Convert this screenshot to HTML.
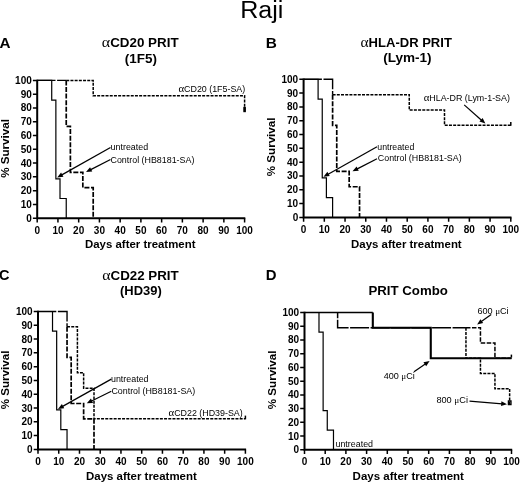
<!DOCTYPE html>
<html><head><meta charset="utf-8"><style>
html,body{margin:0;padding:0;background:#fff;}
svg{display:block;filter:blur(0.3px);}

text{font-family:"Liberation Sans",sans-serif;fill:#000;}
.tk{font-size:10px;font-weight:bold;}
.al{font-size:10.6px;font-weight:bold;}
.an{font-size:8.9px;}
.pl{font-size:14.5px;font-weight:bold;}
.tt{font-size:12.6px;font-weight:bold;}
.ti{font-size:23.3px;}
.ga{font-family:"Liberation Serif",serif;font-weight:normal;font-size:15px;}
.gb{font-family:"Liberation Serif",serif;font-weight:normal;font-size:10.8px;}
.mu{font-family:"Liberation Serif",serif;}

.ax{fill:none;stroke:#000;stroke-width:2;}
.tkl{fill:none;stroke:#000;stroke-width:1.5;}
.arl{fill:none;stroke:#000;}
.cm{fill:none;stroke:#000;stroke-width:2.6;}
.cm2{fill:none;stroke:#000;stroke-width:1.5;}
.unt{fill:none;stroke:#000;stroke-width:1.2;}
.top{fill:none;stroke:#000;stroke-width:1.4;}
.ctl{fill:none;stroke:#000;stroke-width:1.7;stroke-dasharray:5 1.6;}
.d3{fill:none;stroke:#000;stroke-width:1.5;stroke-dasharray:3 1.2;}
.d6{fill:none;stroke:#000;stroke-width:1.5;stroke-dasharray:4.5 1.5;}
.d68{fill:none;stroke:#000;stroke-width:1.5;stroke-dasharray:19 1.5;stroke-dashoffset:13.3;}
.s4{fill:none;stroke:#000;stroke-width:2.1;}
</style></head><body>
<svg width="520" height="483" viewBox="0 0 520 483">
<path d="M37.2 79.7V219.2M36.2 218.2H245.3" class="ax"/>
<path d="M32.9 218.2H37.2M37.2 218.2V222.5M32.9 204.42H37.2M57.94 218.2V222.5M32.9 190.64H37.2M78.68 218.2V222.5M32.9 176.86H37.2M99.42 218.2V222.5M32.9 163.08H37.2M120.16 218.2V222.5M32.9 149.3H37.2M140.9 218.2V222.5M32.9 135.52H37.2M161.64 218.2V222.5M32.9 121.74H37.2M182.38 218.2V222.5M32.9 107.96H37.2M203.12 218.2V222.5M32.9 94.18H37.2M223.86 218.2V222.5M32.9 80.4H37.2M244.6 218.2V222.5" class="tkl"/>
<text x="31.8" y="221.7" class="tk" text-anchor="end">0</text>
<text x="37.2" y="233.5" class="tk" text-anchor="middle">0</text>
<text x="31.8" y="207.92" class="tk" text-anchor="end">10</text>
<text x="57.94" y="233.5" class="tk" text-anchor="middle">10</text>
<text x="31.8" y="194.14" class="tk" text-anchor="end">20</text>
<text x="78.68" y="233.5" class="tk" text-anchor="middle">20</text>
<text x="31.8" y="180.36" class="tk" text-anchor="end">30</text>
<text x="99.42" y="233.5" class="tk" text-anchor="middle">30</text>
<text x="31.8" y="166.58" class="tk" text-anchor="end">40</text>
<text x="120.16" y="233.5" class="tk" text-anchor="middle">40</text>
<text x="31.8" y="152.8" class="tk" text-anchor="end">50</text>
<text x="140.9" y="233.5" class="tk" text-anchor="middle">50</text>
<text x="31.8" y="139.02" class="tk" text-anchor="end">60</text>
<text x="161.64" y="233.5" class="tk" text-anchor="middle">60</text>
<text x="31.8" y="125.24" class="tk" text-anchor="end">70</text>
<text x="182.38" y="233.5" class="tk" text-anchor="middle">70</text>
<text x="31.8" y="111.46" class="tk" text-anchor="end">80</text>
<text x="203.12" y="233.5" class="tk" text-anchor="middle">80</text>
<text x="31.8" y="97.68" class="tk" text-anchor="end">90</text>
<text x="223.86" y="233.5" class="tk" text-anchor="middle">90</text>
<text x="31.8" y="83.9" class="tk" text-anchor="end">100</text>
<text x="244.6" y="233.5" class="tk" text-anchor="middle">100</text>
<path d="M37.2 80.4H51.72V100.11H55.87V178.79H60.01V198.49H66.24V218.2" class="unt"/>
<path d="M37.2 80.4H55.5M57.1 80.4H66.24" class="top"/>
<path d="M66.24 80.4H66.24V126.29H70.38V172.31H82.83V187.61H93.2V218.2" class="ctl"/>
<path d="M66.24 80.4H93.2V95.7H244.6V110.99" class="d3"/>
<path d="M244.6 106.86V112.19" class="cm"/>
<path d="M110.5 147.5L61.38 175.15" class="arl" style="stroke-width:1.25"/>
<path d="M57.2 177.5L61.08 172.56L63.43 176.75Z"/>
<path d="M110.5 159.5L90.28 169.82" class="arl" style="stroke-width:1.25"/>
<path d="M86 172L90.08 167.23L92.26 171.5Z"/>
<path d="M303.6 78.6V218.4M302.6 217.4H511.5" class="ax"/>
<path d="M299.3 217.4H303.6M303.6 217.4V221.7M299.3 203.59H303.6M324.32 217.4V221.7M299.3 189.78H303.6M345.04 217.4V221.7M299.3 175.97H303.6M365.76 217.4V221.7M299.3 162.16H303.6M386.48 217.4V221.7M299.3 148.35H303.6M407.2 217.4V221.7M299.3 134.54H303.6M427.92 217.4V221.7M299.3 120.73H303.6M448.64 217.4V221.7M299.3 106.92H303.6M469.36 217.4V221.7M299.3 93.11H303.6M490.08 217.4V221.7M299.3 79.3H303.6M510.8 217.4V221.7" class="tkl"/>
<text x="298.2" y="220.9" class="tk" text-anchor="end">0</text>
<text x="303.6" y="232.7" class="tk" text-anchor="middle">0</text>
<text x="298.2" y="207.09" class="tk" text-anchor="end">10</text>
<text x="324.32" y="232.7" class="tk" text-anchor="middle">10</text>
<text x="298.2" y="193.28" class="tk" text-anchor="end">20</text>
<text x="345.04" y="232.7" class="tk" text-anchor="middle">20</text>
<text x="298.2" y="179.47" class="tk" text-anchor="end">30</text>
<text x="365.76" y="232.7" class="tk" text-anchor="middle">30</text>
<text x="298.2" y="165.66" class="tk" text-anchor="end">40</text>
<text x="386.48" y="232.7" class="tk" text-anchor="middle">40</text>
<text x="298.2" y="151.85" class="tk" text-anchor="end">50</text>
<text x="407.2" y="232.7" class="tk" text-anchor="middle">50</text>
<text x="298.2" y="138.04" class="tk" text-anchor="end">60</text>
<text x="427.92" y="232.7" class="tk" text-anchor="middle">60</text>
<text x="298.2" y="124.23" class="tk" text-anchor="end">70</text>
<text x="448.64" y="232.7" class="tk" text-anchor="middle">70</text>
<text x="298.2" y="110.42" class="tk" text-anchor="end">80</text>
<text x="469.36" y="232.7" class="tk" text-anchor="middle">80</text>
<text x="298.2" y="96.61" class="tk" text-anchor="end">90</text>
<text x="490.08" y="232.7" class="tk" text-anchor="middle">90</text>
<text x="298.2" y="82.8" class="tk" text-anchor="end">100</text>
<text x="510.8" y="232.7" class="tk" text-anchor="middle">100</text>
<path d="M303.6 79.3H318.1V99.05H322.25V177.9H326.39V197.65H332.61V217.4" class="unt"/>
<path d="M303.6 79.3H321.9M323.5 79.3H332.61V89.3M332.61 91.1V94.63" class="top"/>
<path d="M332.61 94.63H332.61V125.29H336.75V171.41H349.18V186.74H359.54V217.4" class="ctl"/>
<path d="M332.61 94.63H409.27V109.96H444.5V125.29H510.8V125.29" class="d3"/>
<path d="M510.8 125.79V122.11" class="cm2"/>
<path d="M377 146.8L327.69 174.45" class="arl" style="stroke-width:1.25"/>
<path d="M323.5 176.8L327.39 171.87L329.73 176.06Z"/>
<path d="M377 158.8L356.78 169.12" class="arl" style="stroke-width:1.25"/>
<path d="M352.5 171.3L356.58 166.53L358.76 170.8Z"/>
<path d="M464.2 104.9L481.8 120.42" class="arl" style="stroke-width:1.25"/>
<path d="M485.4 123.6L479.46 121.56L482.64 117.96Z"/>
<path d="M38 310.8V450.4M37 449.4H246.1" class="ax"/>
<path d="M33.7 449.4H38M38 449.4V453.7M33.7 435.61H38M58.74 449.4V453.7M33.7 421.82H38M79.48 449.4V453.7M33.7 408.03H38M100.22 449.4V453.7M33.7 394.24H38M120.96 449.4V453.7M33.7 380.45H38M141.7 449.4V453.7M33.7 366.66H38M162.44 449.4V453.7M33.7 352.87H38M183.18 449.4V453.7M33.7 339.08H38M203.92 449.4V453.7M33.7 325.29H38M224.66 449.4V453.7M33.7 311.5H38M245.4 449.4V453.7" class="tkl"/>
<text x="32.6" y="452.9" class="tk" text-anchor="end">0</text>
<text x="38" y="464.7" class="tk" text-anchor="middle">0</text>
<text x="32.6" y="439.11" class="tk" text-anchor="end">10</text>
<text x="58.74" y="464.7" class="tk" text-anchor="middle">10</text>
<text x="32.6" y="425.32" class="tk" text-anchor="end">20</text>
<text x="79.48" y="464.7" class="tk" text-anchor="middle">20</text>
<text x="32.6" y="411.53" class="tk" text-anchor="end">30</text>
<text x="100.22" y="464.7" class="tk" text-anchor="middle">30</text>
<text x="32.6" y="397.74" class="tk" text-anchor="end">40</text>
<text x="120.96" y="464.7" class="tk" text-anchor="middle">40</text>
<text x="32.6" y="383.95" class="tk" text-anchor="end">50</text>
<text x="141.7" y="464.7" class="tk" text-anchor="middle">50</text>
<text x="32.6" y="370.16" class="tk" text-anchor="end">60</text>
<text x="162.44" y="464.7" class="tk" text-anchor="middle">60</text>
<text x="32.6" y="356.37" class="tk" text-anchor="end">70</text>
<text x="183.18" y="464.7" class="tk" text-anchor="middle">70</text>
<text x="32.6" y="342.58" class="tk" text-anchor="end">80</text>
<text x="203.92" y="464.7" class="tk" text-anchor="middle">80</text>
<text x="32.6" y="328.79" class="tk" text-anchor="end">90</text>
<text x="224.66" y="464.7" class="tk" text-anchor="middle">90</text>
<text x="32.6" y="315" class="tk" text-anchor="end">100</text>
<text x="245.4" y="464.7" class="tk" text-anchor="middle">100</text>
<path d="M38 311.5H52.52V331.22H56.67V409.96H60.81V429.68H67.04V449.4" class="unt"/>
<path d="M38 311.5H56.3M57.9 311.5H67.04V321.5M67.04 323.3V326.81" class="top"/>
<path d="M67.04 326.81H67.04V357.42H71.18V403.48H83.63V418.79H94V449.4" class="ctl"/>
<path d="M67.04 326.81H77.41V372.73H83.63V388.17H94V418.79H245.4V418.79" class="d3"/>
<path d="M245.4 419.29V415.61" class="cm2"/>
<path d="M111.3 379.1L62.19 406.65" class="arl" style="stroke-width:1.25"/>
<path d="M58 409L61.88 404.07L64.23 408.26Z"/>
<path d="M111.3 391.3L91.11 401.19" class="arl" style="stroke-width:1.25"/>
<path d="M86.8 403.3L90.95 398.59L93.06 402.9Z"/>
<path d="M304.5 311.8V450.8M303.5 449.8H512.2" class="ax"/>
<path d="M300.2 449.8H304.5M304.5 449.8V454.1M300.2 436.07H304.5M325.2 449.8V454.1M300.2 422.34H304.5M345.9 449.8V454.1M300.2 408.61H304.5M366.6 449.8V454.1M300.2 394.88H304.5M387.3 449.8V454.1M300.2 381.15H304.5M408 449.8V454.1M300.2 367.42H304.5M428.7 449.8V454.1M300.2 353.69H304.5M449.4 449.8V454.1M300.2 339.96H304.5M470.1 449.8V454.1M300.2 326.23H304.5M490.8 449.8V454.1M300.2 312.5H304.5M511.5 449.8V454.1" class="tkl"/>
<text x="299.1" y="453.3" class="tk" text-anchor="end">0</text>
<text x="304.5" y="465.1" class="tk" text-anchor="middle">0</text>
<text x="299.1" y="439.57" class="tk" text-anchor="end">10</text>
<text x="325.2" y="465.1" class="tk" text-anchor="middle">10</text>
<text x="299.1" y="425.84" class="tk" text-anchor="end">20</text>
<text x="345.9" y="465.1" class="tk" text-anchor="middle">20</text>
<text x="299.1" y="412.11" class="tk" text-anchor="end">30</text>
<text x="366.6" y="465.1" class="tk" text-anchor="middle">30</text>
<text x="299.1" y="398.38" class="tk" text-anchor="end">40</text>
<text x="387.3" y="465.1" class="tk" text-anchor="middle">40</text>
<text x="299.1" y="384.65" class="tk" text-anchor="end">50</text>
<text x="408" y="465.1" class="tk" text-anchor="middle">50</text>
<text x="299.1" y="370.92" class="tk" text-anchor="end">60</text>
<text x="428.7" y="465.1" class="tk" text-anchor="middle">60</text>
<text x="299.1" y="357.19" class="tk" text-anchor="end">70</text>
<text x="449.4" y="465.1" class="tk" text-anchor="middle">70</text>
<text x="299.1" y="343.46" class="tk" text-anchor="end">80</text>
<text x="470.1" y="465.1" class="tk" text-anchor="middle">80</text>
<text x="299.1" y="329.73" class="tk" text-anchor="end">90</text>
<text x="490.8" y="465.1" class="tk" text-anchor="middle">90</text>
<text x="299.1" y="316" class="tk" text-anchor="end">100</text>
<text x="511.5" y="465.1" class="tk" text-anchor="middle">100</text>
<path d="M304.5 312.5H318.99V332.13H323.13V410.53H327.27V430.17H333.48V449.8" class="unt"/>
<path d="M337.62 312.5V327.74H465.96" class="d68"/>
<path d="M465.96 327.74H480.45V342.98H494.94V358.22H511.5" class="d6"/>
<path d="M465.96 327.74V358.22H480.45V373.46H494.94V388.84H509.64V404.08" class="d3"/>
<path d="M304.5 312.5H372.81" class="top" style="stroke-width:1.7"/>
<path d="M372.81 312.5H372.81V327.74H430.77V358.22H511.5V358.22" class="s4"/>
<path d="M508.4 401h2.6v3.5h-2.6z" fill="none" stroke="#000" stroke-width="1.3"/>
<path d="M511.4 354.6V357.5" class="cm2"/>
<path d="M414 371.7L425.64 363.72" class="arl" style="stroke-width:1.25"/>
<path d="M429.6 361L426.17 366.26L423.46 362.3Z"/>
<path d="M491.2 314.4L481 321.7" class="arl" style="stroke-width:1.25"/>
<path d="M477.1 324.5L480.42 319.17L483.21 323.07Z"/>
<path d="M469.5 401.1L502.22 403.8" class="arl" style="stroke-width:1.25"/>
<path d="M507 404.2L501.02 406.11L501.42 401.33Z"/>
<text transform="translate(240.15 17.6) scale(1.0767 1)" class="ti">Raji</text>
<text transform="translate(-0.53 48.2) scale(1.0526 1)" class="pl">A</text>
<text transform="translate(265.84 48.1) scale(1.0629 1)" class="pl">B</text>
<text x="-0.9" y="279.6" class="pl">C</text>
<text transform="translate(265.77 279.6) scale(1.0286 1)" class="pl">D</text>
<text transform="translate(101.77 47.3) scale(1.0643 1)" class="tt"><tspan class="ga">&#945;</tspan>CD20 PRIT</text>
<text transform="translate(124.8 62.7) scale(1.0678 1)" class="tt">(1F5)</text>
<text transform="translate(360.48 46.6) scale(1.0348 1)" class="tt"><tspan class="ga">&#945;</tspan>HLA-DR PRIT</text>
<text transform="translate(383.19 62) scale(1.0759 1)" class="tt">(Lym-1)</text>
<text transform="translate(102.17 279.5) scale(1.0601 1)" class="tt"><tspan class="ga">&#945;</tspan>CD22 PRIT</text>
<text transform="translate(120.03 294.6) scale(1.0293 1)" class="tt">(HD39)</text>
<text transform="translate(368.41 295) scale(1.0532 1)" class="tt">PRIT Combo</text>
<text transform="translate(84.99 248.3) scale(1.0788 1)" class="al">Days after treatment</text>
<text transform="translate(351.09 247.5) scale(1.0808 1)" class="al">Days after treatment</text>
<text transform="translate(85.99 479.8) scale(1.0818 1)" class="al">Days after treatment</text>
<text transform="translate(352.58 480) scale(1.0877 1)" class="al">Days after treatment</text>
<text transform="translate(9 177.87) rotate(-90) scale(1.0990 1)" class="al">% Survival</text>
<text transform="translate(274.6 176.17) rotate(-90) scale(1.0933 1)" class="al">% Survival</text>
<text transform="translate(9.4 409.27) rotate(-90) scale(1.0952 1)" class="al">% Survival</text>
<text transform="translate(276.3 409.17) rotate(-90) scale(1.0933 1)" class="al">% Survival</text>
<text x="178.4" y="92.4" class="an"><tspan class="gb">&#945;</tspan>CD20 (1F5-SA)</text>
<text x="110.6" y="150.3" class="an">untreated</text>
<text x="110.5" y="162.5" class="an">Control (HB8181-SA)</text>
<text x="423.7" y="101" class="an"><tspan class="gb">&#945;</tspan>HLA-DR (Lym-1-SA)</text>
<text transform="translate(377.31 149.6) scale(0.9836 1)" class="an">untreated</text>
<text x="377.8" y="161.3" class="an">Control (HB8181-SA)</text>
<text x="168.5" y="415.6" class="an"><tspan class="gb">&#945;</tspan>CD22 (HD39-SA)</text>
<text x="111" y="381.9" class="an">untreated</text>
<text x="111.4" y="394.4" class="an">Control (HB8181-SA)</text>
<text x="335.5" y="446.5" class="an">untreated</text>
<text transform="translate(383.75 379.4) scale(1.0169 1)" class="an">400 <tspan class="mu">&#956;</tspan>Ci</text>
<text transform="translate(477.39 314.1) scale(1.0256 1)" class="an">600 <tspan class="mu">&#956;</tspan>Ci</text>
<text transform="translate(436.38 402.5) scale(1.0359 1)" class="an">800 <tspan class="mu">&#956;</tspan>Ci</text>
</svg>
</body></html>
